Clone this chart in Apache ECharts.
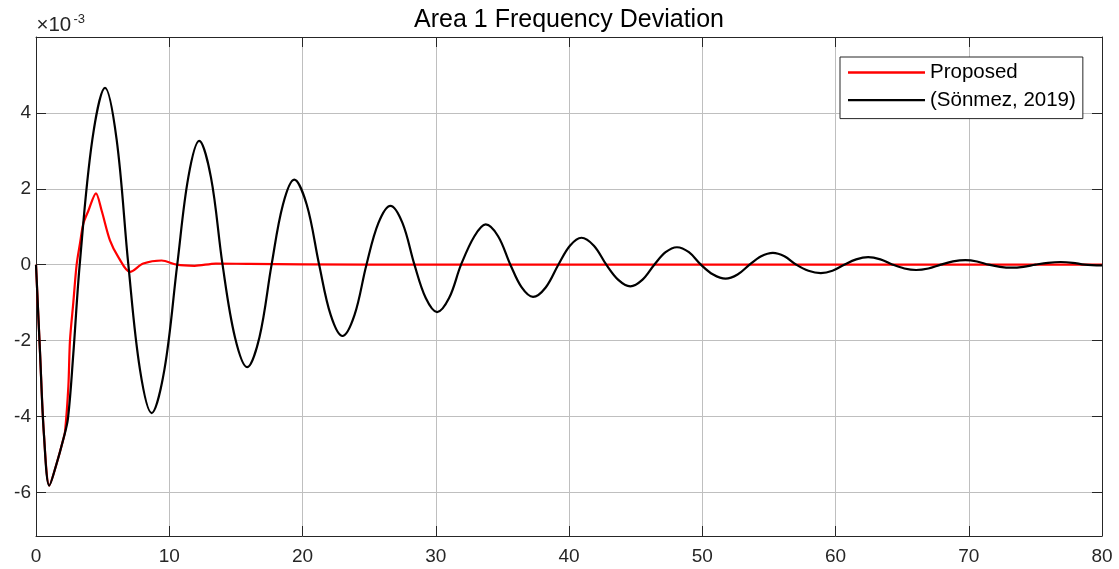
<!DOCTYPE html>
<html><head><meta charset="utf-8">
<script src="https://cdn.jsdelivr.net/npm/echarts@6/dist/echarts.min.js"></script>
<style>html,body{margin:0;padding:0;background:#fff}#c{width:1119px;height:569px}</style>
</head><body><div id="c"></div>
<script>
// ---- data ----
const xTicks = [0, 10, 20, 30, 40, 50, 60, 70, 80];
const yTicks = [-6, -4, -2, 0, 2, 4];
const seriesNames = ['Proposed', '(Sönmez, 2019)'];

const proposedT = [0, 0.3, 0.6, 1.0, 1.5, 2.05, 2.18, 2.43, 2.55, 2.8, 3.05, 3.3, 3.55, 3.93, 4.5, 4.93, 5.55, 6.18, 7.05, 8.05, 9.43, 10.55, 11.9, 13.5, 16, 20, 30, 80];
const proposedY = [0, -2.3, -4.5, -5.82, -5.3, -4.6, -4.4, -3.2, -2.0, -1.0, 0, 0.56, 1.08, 1.42, 1.88, 1.42, 0.64, 0.2, -0.19, 0.03, 0.11, 0.0, -0.03, 0.03, 0.02, 0.01, 0, 0];

const sonmezT = [0, 0.3, 0.6, 1.0, 1.5, 2.05, 2.4, 2.8, 3.28, 4.23, 5.18, 6.05, 6.93, 7.8, 8.68, 9.64, 10.6, 11.43, 12.25, 13.13, 14.0, 14.93, 15.85, 16.77, 17.68, 18.53, 19.38, 20.32, 21.25, 22.12, 23.0, 23.9, 24.8, 25.7, 26.6, 27.5, 28.4, 29.25, 30.1, 31.0, 31.9, 32.9, 33.75, 34.68, 35.6, 36.45, 37.3, 38.25, 39.2, 40.07, 40.93, 41.87, 42.8, 43.7, 44.6, 45.5, 46.4, 47.25, 48.1, 49.0, 49.9, 50.82, 51.75, 52.65, 53.55, 54.42, 55.3, 56.17, 57.05, 57.97, 58.9, 59.77, 60.65, 61.55, 62.45, 63.37, 64.3, 65.17, 66.05, 66.97, 67.9, 68.82, 69.75, 70.62, 71.5, 72.35, 73.2, 74.1, 75.0, 75.95, 76.9, 77.8, 78.7, 80];
const sonmezY = [0, -2.3, -4.5, -5.82, -5.3, -4.6, -4.05, -2.35, 0, 3.3, 4.66, 3.3, 0, -2.76, -3.91, -2.76, 0, 2.3, 3.26, 2.3, 0, -1.91, -2.7, -1.91, 0, 1.58, 2.24, 1.58, 0, -1.33, -1.88, -1.33, 0, 1.1, 1.55, 1.1, 0, -0.88, -1.25, -0.88, 0, 0.75, 1.06, 0.75, 0, -0.6, -0.85, -0.6, 0, 0.5, 0.71, 0.5, 0, -0.4, -0.57, -0.4, 0, 0.33, 0.46, 0.33, 0, -0.26, -0.37, -0.26, 0, 0.22, 0.31, 0.22, 0, -0.16, -0.22, -0.16, 0, 0.14, 0.2, 0.14, 0, -0.1, -0.14, -0.1, 0, 0.085, 0.12, 0.085, 0, -0.057, -0.08, -0.057, 0, 0.05, 0.07, 0.05, 0, -0.02];

const zip = (a, b) => a.map((v, i) => [v, b[i]]);

const FONT = "'Liberation Sans', Arial, sans-serif";
const AX = '#262626';
const GRIDC = '#bfbfbf';
const YMIN = -7.15, YMAX = 6;

const chart = echarts.init(document.getElementById('c'), null, {renderer: 'canvas'});
chart.setOption({
  animation: false,
  backgroundColor: '#fff',
  grid: {left: 36, top: 37, right: 17, bottom: 33, containLabel: false},
  xAxis: [{
    type: 'value', min: xTicks[0], max: xTicks[xTicks.length - 1], interval: 10, position: 'bottom',
    axisLine: {show: true, onZero: false, lineStyle: {color: AX, width: 1}},
    axisTick: {show: true, inside: true, length: 10, lineStyle: {color: AX}},
    axisLabel: {color: AX, fontFamily: FONT, fontSize: 19, margin: 11},
    splitLine: {show: true, lineStyle: {color: GRIDC, width: 1}}
  }, {
    type: 'value', min: xTicks[0], max: xTicks[xTicks.length - 1], interval: 10, position: 'top',
    axisLine: {show: true, onZero: false, lineStyle: {color: AX, width: 1}},
    axisTick: {show: true, inside: true, length: 10, lineStyle: {color: AX}},
    axisLabel: {show: false}, splitLine: {show: false}
  }],
  yAxis: [{
    type: 'value', min: YMIN, max: YMAX, position: 'left',
    axisLine: {show: true, onZero: false, lineStyle: {color: AX, width: 1}},
    axisTick: {show: true, inside: true, length: 10, customValues: yTicks, lineStyle: {color: AX}},
    axisLabel: {color: AX, fontFamily: FONT, fontSize: 19, margin: 5, customValues: yTicks},
    splitLine: {show: true, lineStyle: {color: GRIDC, width: 1}}
  }, {
    type: 'value', min: YMIN, max: YMAX, position: 'right',
    axisLine: {show: true, onZero: false, lineStyle: {color: AX, width: 1}},
    axisTick: {show: true, inside: true, length: 10, customValues: yTicks, lineStyle: {color: AX}},
    axisLabel: {show: false, customValues: yTicks}, splitLine: {show: false}
  }],
  legend: {
    orient: 'vertical', left: 840, top: 57,
    padding: [5, 7, 8, 8], itemGap: 6.6,
    itemWidth: 77, itemHeight: 14,
    backgroundColor: '#fff', borderColor: AX, borderWidth: 1,
    textStyle: {fontFamily: FONT, fontSize: 20.5, color: '#000', lineHeight: 20},
    data: seriesNames.map(n => ({name: n, icon: 'path://M0,0 L100,0 L100,3 L0,3 Z'}))
  },
  graphic: [
    {type: 'text', x: 569, y: 20.5, style: {text: 'Area 1 Frequency Deviation', font: "25px " + FONT, fill: '#000', align: 'center', verticalAlign: 'middle'}},
    {type: 'text', x: 36.5, y: 25.5, style: {text: '×10', font: "20.5px " + FONT, fill: AX, align: 'left', verticalAlign: 'middle'}},
    {type: 'text', x: 73.5, y: 19, style: {text: '-3', font: "13px " + FONT, fill: AX, align: 'left', verticalAlign: 'middle'}}
  ],
  series: [{
    name: seriesNames[0], type: 'line', data: zip(proposedT, proposedY),
    symbol: 'none', smooth: 0.3, color: '#ff0000',
    lineStyle: {color: '#ff0000', width: 2.2}
  }, {
    name: seriesNames[1], type: 'line', data: zip(sonmezT, sonmezY),
    symbol: 'none', smooth: 0.35, color: '#000000',
    lineStyle: {color: '#000000', width: 2.2}
  }]
});
</script></body></html>
